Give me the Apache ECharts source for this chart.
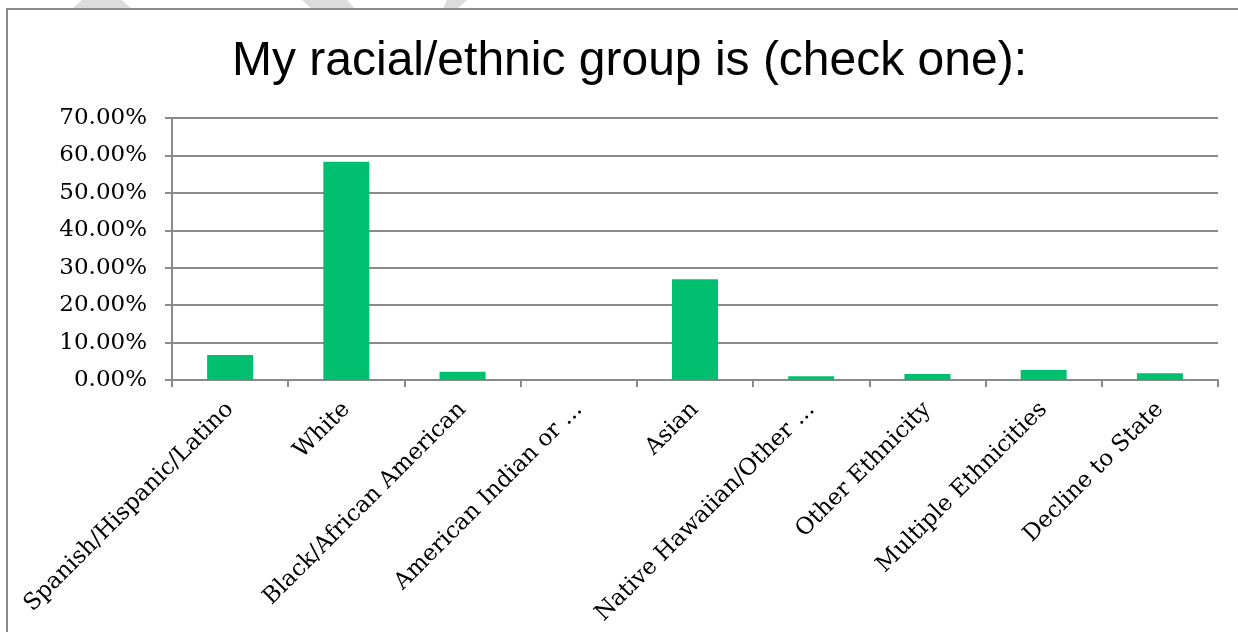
<!DOCTYPE html>
<html><head><meta charset="utf-8">
<script src="https://cdn.jsdelivr.net/npm/echarts@6/dist/echarts.min.js"></script>
<style>html,body{margin:0;padding:0;background:#fff}#c{width:1238px;height:632px}</style>
</head><body><div id="c"></div>
<script>
const titleText = 'My racial/ethnic group is (check one):';
const categories = ['Spanish/Hispanic/Latino','White','Black/African American','American Indian or ...','Asian','Native Hawaiian/Other ...','Other Ethnicity','Multiple Ethnicities','Decline to State'];
const values = [6.7, 58.3, 2.2, 0, 26.9, 1.0, 1.6, 2.7, 1.8];
const yMin = 0, yMax = 70, yStep = 10;

const chart = echarts.init(document.getElementById('c'), null, {renderer:'canvas'});
chart.setOption({
  animation:false,
  backgroundColor:'#fff',
  title:{text:titleText,left:227,top:33,textStyle:{fontFamily:'Liberation Sans',fontSize:48,fontWeight:'normal',color:'#000'}},
  graphic:[
    {type:'polygon',shape:{points:[[82,0],[122,0],[132,9],[72,9]]},style:{fill:'#dcdcdc'},silent:true},
    {type:'polygon',shape:{points:[[302,0],[347,0],[355,9],[312,9]]},style:{fill:'#dcdcdc'},silent:true},
    {type:'polygon',shape:{points:[[447,0],[467,0],[457,9],[443,9]]},style:{fill:'#dcdcdc'},silent:true},
    {type:'rect',shape:{x:7,y:9,width:1300,height:700},style:{fill:'none',stroke:'#8a8a8a',lineWidth:2},silent:true}
  ],
  grid:{left:172,right:20,top:118,bottom:252,containLabel:false},
  xAxis:{type:'category',data:categories,
    axisLine:{lineStyle:{color:'#8a8a8a',width:2}},
    axisTick:{show:true,length:7,alignWithLabel:false,lineStyle:{color:'#8a8a8a',width:2}},
    axisLabel:{rotate:45,interval:0,margin:26,fontFamily:'DejaVu Serif',fontSize:23,color:'#000'}},
  yAxis:{type:'value',min:yMin,max:yMax,interval:yStep,
    axisLine:{show:true,lineStyle:{color:'#8a8a8a',width:2}},
    axisTick:{show:true,length:7,lineStyle:{color:'#8a8a8a',width:2}},
    splitLine:{lineStyle:{color:'#8a8a8a',width:2}},
    axisLabel:{margin:25,fontFamily:'DejaVu Serif',fontSize:23,color:'#000',formatter:v=>v.toFixed(2)+'%'}},
  series:[{type:'bar',data:values,barWidth:46,itemStyle:{color:'#00bf6f'}}]
});
</script></body></html>
